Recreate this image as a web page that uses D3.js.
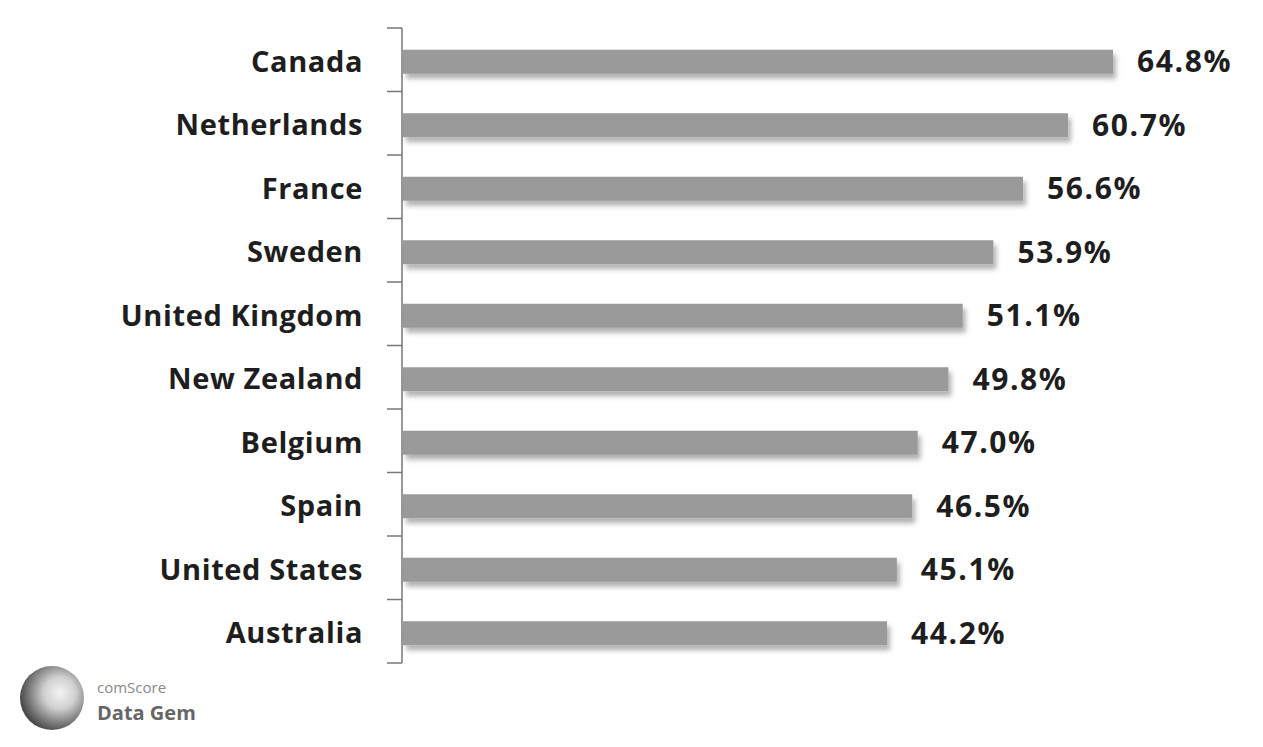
<!DOCTYPE html>
<html><head><meta charset="utf-8">
<script src="https://cdn.jsdelivr.net/npm/d3@7"></script>
<style>body{margin:0;background:#fff;}svg{display:block;}</style>
</head><body>
<script>
const countries = ["Canada","Netherlands","France","Sweden","United Kingdom","New Zealand","Belgium","Spain","United States","Australia"];
const values = [64.8,60.7,56.6,53.9,51.1,49.8,47.0,46.5,45.1,44.2];

const W=1263,H=747;
const svg=d3.select("body").append("svg").attr("width",W).attr("height",H);
const defs=svg.append("defs");
const f=defs.append("filter").attr("id","sh").attr("x","-5%").attr("y","-50%").attr("width","110%").attr("height","250%");
f.append("feDropShadow").attr("dx",3).attr("dy",5).attr("stdDeviation",2.5).attr("flood-color","#000").attr("flood-opacity",0.3);
const g1=defs.append("radialGradient").attr("id","logo").attr("cx","62%").attr("cy","42%").attr("r","62%");
g1.append("stop").attr("offset","0%").attr("stop-color","#f4f4f4");
g1.append("stop").attr("offset","40%").attr("stop-color","#d0d0d0");
g1.append("stop").attr("offset","75%").attr("stop-color","#808080");
g1.append("stop").attr("offset","100%").attr("stop-color","#4a4a4a");

const x0=402;
const x=d3.scaleLinear().domain([0,64.8]).range([x0,1113]);
const band=d3.scaleBand().domain(countries).range([28,663]).padding(0);
const barH=24, barOff=(band.bandwidth()-barH)/2+2;

// axis line with ticks at band boundaries
const bounds=countries.map(c=>band(c)).concat([band.range()[1]]);
svg.append("line").attr("x1",x0).attr("x2",x0).attr("y1",bounds[0]).attr("y2",bounds[bounds.length-1]).attr("stroke","#777").attr("stroke-width",1.5);
svg.selectAll("line.tk").data(bounds).join("line").attr("class","tk")
  .attr("x1",x0-15).attr("x2",x0).attr("y1",d=>d).attr("y2",d=>d).attr("stroke","#777").attr("stroke-width",1.5);

svg.selectAll("rect.bar").data(values).join("rect").attr("class","bar")
  .attr("x",x0+1).attr("y",(d,i)=>band(countries[i])+barOff)
  .attr("width",d=>x(d)-x0-1).attr("height",barH)
  .attr("fill","#9a9a9a").attr("filter","url(#sh)");

const ty=c=>band(c)+barOff+barH/2;
svg.selectAll("text.cat").data(countries).join("text").attr("class","cat")
  .attr("x",363).attr("y",d=>ty(d)).attr("dy","0.35em")
  .attr("text-anchor","end").attr("font-family","Open Sans, sans-serif").attr("font-weight","bold")
  .attr("font-size",29).attr("fill","#1e1e1e").attr("letter-spacing","0.6").text(d=>d);

svg.selectAll("text.val").data(values).join("text").attr("class","val")
  .attr("x",d=>x(d)+24).attr("y",(d,i)=>ty(countries[i])).attr("dy","0.35em")
  .attr("font-family","Open Sans, sans-serif").attr("font-weight","bold")
  .attr("font-size",30).attr("fill","#1e1e1e").attr("letter-spacing","1.6").text(d=>d.toFixed(1)+"%");

// logo
svg.append("circle").attr("cx",52).attr("cy",698).attr("r",32).attr("fill","url(#logo)");
svg.append("text").attr("x",97).attr("y",693).attr("font-family","Open Sans, sans-serif").attr("font-size",15).attr("fill","#888").text("comScore");
svg.append("text").attr("x",97).attr("y",720).attr("font-family","Open Sans, sans-serif").attr("font-weight","bold").attr("font-size",20).attr("fill","#666").text("Data Gem");
</script>
</body></html>
